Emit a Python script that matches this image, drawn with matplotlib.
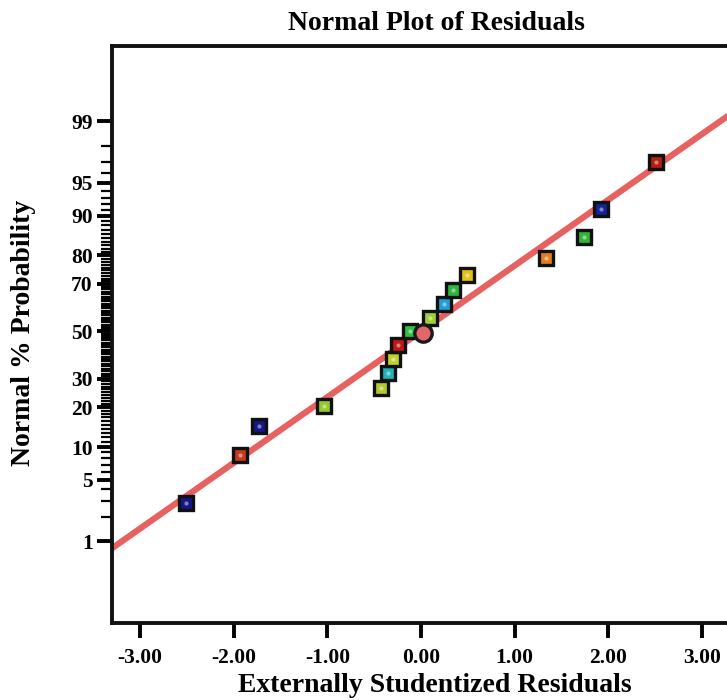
import numpy as np
import matplotlib
matplotlib.use("Agg")
import matplotlib.pyplot as plt
import matplotlib.colors as mcolors
from statistics import NormalDist

# residuals and their normal % probability
resid = [-2.51, -1.93, -1.73, -1.04, -0.43, -0.35, -0.30, -0.25, -0.12,
         0.10, 0.25, 0.34, 0.49, 1.34, 1.74, 1.92, 2.51]
prob = [2.9, 8.6, 14.6, 20.4, 26.4, 32.2, 37.9, 43.9, 50.0,
        55.8, 61.8, 67.5, 73.4, 79.3, 85.2, 91.2, 97.0]
colors = ['#14168a', '#c33a1c', '#14168a', '#92cc2c', '#b4c92e', '#1fb3b8',
          '#bcd32e', '#c01616', '#2fc043', '#9fd033', '#1f9fd4', '#2cb53f',
          '#e0c21c', '#e0821c', '#2fb635', '#122496', '#b4200e']

# highlighted point (circle)
circ_resid = 0.02
circ_prob = 49.3

# fitted reference line (z = slope * residual + intercept)
line_slope = 0.728
line_intercept = 0.0

yticks = [1, 5, 10, 20, 30, 50, 70, 80, 90, 95, 99]
xticks = [-3, -2, -1, 0, 1, 2, 3]

nd = NormalDist()


def fwd(p):
    p = np.clip(np.asarray(p, dtype=float), 1e-6, 100 - 1e-6)
    return np.array([nd.inv_cdf(v / 100.0) for v in p.ravel()]).reshape(p.shape)


def inv(z):
    z = np.asarray(z, dtype=float)
    return np.array([nd.cdf(v) * 100.0 for v in z.ravel()]).reshape(z.shape)


def lighter(c, f=0.45):
    r = np.array(mcolors.to_rgb(c))
    return tuple(r + (1 - r) * f)


plt.rcParams['font.family'] = ['Liberation Serif', 'DejaVu Serif']
plt.rcParams['font.weight'] = 'bold'

fig = plt.figure(figsize=(7.27, 7.00), dpi=100)
ax = fig.add_axes([112 / 727, 77 / 700, 618 / 727, 577 / 700])
ax.set_yscale('function', functions=(fwd, inv))

xl = np.linspace(-3.3, 3.3, 60)
ax.plot(xl, inv(line_slope * xl + line_intercept), color='#e65050', lw=4.5,
        alpha=0.9, solid_capstyle='butt', zorder=2)

for x, p, c in zip(resid, prob, colors):
    ax.plot(x, p, marker='s', ms=9.5, mfc=c, mec='#111111', mew=2.4,
            ls='none', zorder=3)
    ax.plot(x, p, marker='o', ms=3, mfc=lighter(c), mec='none',
            ls='none', zorder=4)
ax.plot(circ_resid, circ_prob, marker='o', ms=12.5, mfc='#e06868', mec='#1a1a1a',
        mew=2.4, ls='none', zorder=3)

ax.set_xlim(-3.3, 3.3)
ax.set_ylim(inv(-3.23), inv(3.16))

ax.set_xticks(xticks)
ax.set_xticklabels([f'{v:.2f}' for v in xticks])
ax.set_yticks(yticks)
ax.set_yticklabels([str(v) for v in yticks])
minor = [v for v in range(2, 99) if v not in yticks]
ax.set_yticks(minor, minor=True)
ax.tick_params(axis='both', which='major', direction='out', length=11, width=2.8,
               labelsize=15.5)
ax.tick_params(axis='y', which='major', pad=3)
ax.tick_params(axis='y', which='minor', direction='out', length=8, width=1.6)
ax.tick_params(axis='x', which='minor', bottom=False)
ax.tick_params(axis='x', which='major', pad=7)

for s in ax.spines.values():
    s.set_linewidth(2.8)
    s.set_color('#111111')

fig.text(435 / 727, 1 - 686 / 700, 'Externally Studentized Residuals',
         ha='center', va='center', fontsize=20, fontweight='bold')
fig.text(24 / 727, 1 - 333 / 700, 'Normal % Probability', rotation=90,
         ha='center', va='center', fontsize=20, fontweight='bold')
fig.text(436 / 727, 1 - 23 / 700, 'Normal Plot of Residuals', ha='center',
         va='center', fontsize=20, fontweight='bold')

fig.savefig('out.png', dpi=100)
